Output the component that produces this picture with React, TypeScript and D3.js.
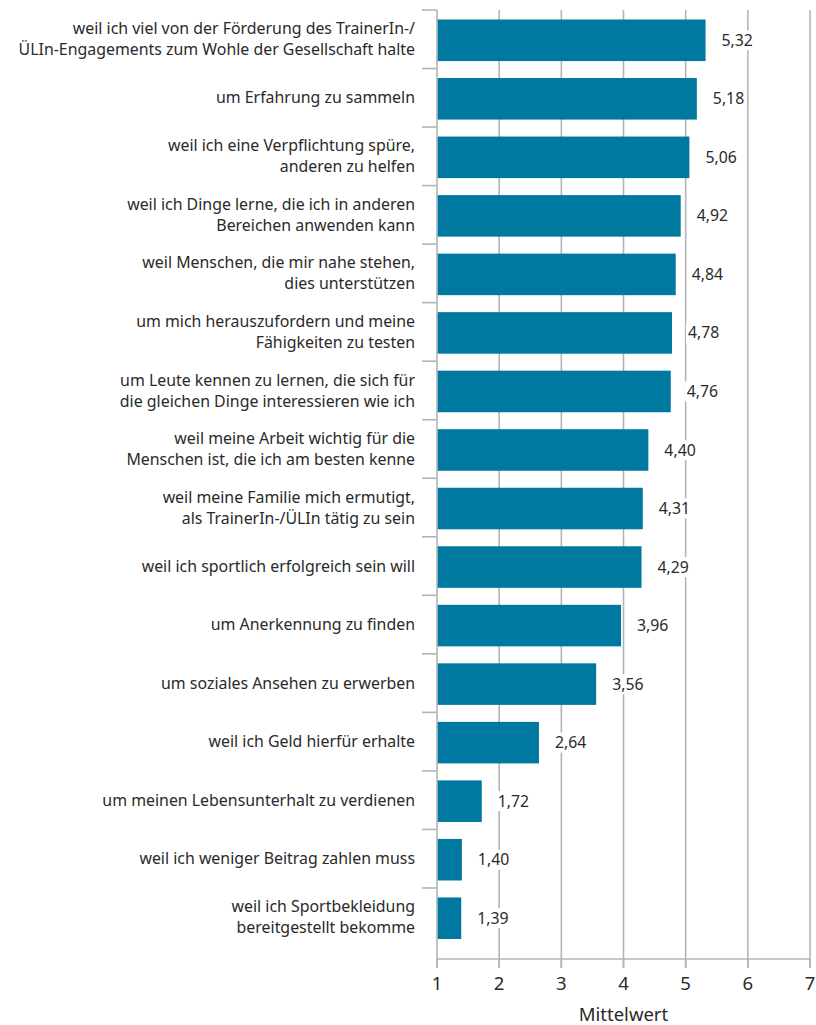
import React from "react";
import * as d3 from "d3";

const categories: string[][] = [
  ["weil ich viel von der Förderung des TrainerIn-/", "ÜLIn-Engagements zum Wohle der Gesellschaft halte"],
  ["um Erfahrung zu sammeln"],
  ["weil ich eine Verpflichtung spüre,", "anderen zu helfen"],
  ["weil ich Dinge lerne, die ich in anderen", "Bereichen anwenden kann"],
  ["weil Menschen, die mir nahe stehen,", "dies unterstützen"],
  ["um mich herauszufordern und meine", "Fähigkeiten zu testen"],
  ["um Leute kennen zu lernen, die sich für", "die gleichen Dinge interessieren wie ich"],
  ["weil meine Arbeit wichtig für die", "Menschen ist, die ich am besten kenne"],
  ["weil meine Familie mich ermutigt,", "als TrainerIn-/ÜLIn tätig zu sein"],
  ["weil ich sportlich erfolgreich sein will"],
  ["um Anerkennung zu finden"],
  ["um soziales Ansehen zu erwerben"],
  ["weil ich Geld hierfür erhalte"],
  ["um meinen Lebensunterhalt zu verdienen"],
  ["weil ich weniger Beitrag zahlen muss"],
  ["weil ich Sportbekleidung", "bereitgestellt bekomme"],
];
const values: number[] = [5.32, 5.18, 5.06, 4.92, 4.84, 4.78, 4.76, 4.4, 4.31, 4.29, 3.96, 3.56, 2.64, 1.72, 1.4, 1.39];
const xTicks: number[] = [1, 2, 3, 4, 5, 6, 7];
const xTitle = "Mittelwert";

const BAR = "#0079a0";
const GRID = "#b4b4b8";
const TEXT = "#2a2a2a";
const FONT = "'Noto Sans', sans-serif";

export default function App() {
  const ids = categories.map((_, i) => String(i));
  const x = d3.scaleLinear().domain([1, 7]).range([437, 810]);
  const y = d3.scaleBand().domain(ids).range([10, 946.5]).paddingInner(0.29).paddingOuter(0.145);
  const step = y.step();
  const axisY = 959;
  const fmt = (v: number) => d3.format(".2f")(v).replace(".", ",");

  return (
    <svg width={816} height={1025} style={{ position: "absolute", left: 0, top: 0 }} fontFamily={FONT}>
      <rect width={816} height={1025} fill="#fff" />
      {xTicks.slice(1).map((t) => (
        <line key={"g" + t} x1={x(t)} x2={x(t)} y1={10} y2={axisY + 9} stroke={GRID} strokeWidth={1.6} />
      ))}
      {values.map((v, i) => (
        <rect key={"b" + i} x={x(1)} y={(y(ids[i]) as number) + 1} width={x(v) - x(1)} height={y.bandwidth()} fill={BAR} />
      ))}
      {values.map((v, i) => {
        const cy = (y(ids[i]) as number) + 1 + y.bandwidth() / 2;
        const lx = x(v) + 16;
        return (
          <g key={"v" + i}>
            <rect x={lx - 2} y={cy - 10} width={36} height={20} fill="#fff" />
            <text x={lx} y={cy} dy="0.35em" fontSize={15.8} fill={TEXT}>
              {fmt(v)}
            </text>
          </g>
        );
      })}
      <line x1={x(1)} x2={x(1)} y1={10} y2={axisY + 9} stroke={GRID} strokeWidth={1.6} />
      {d3.range(16).map((i) => (
        <line key={"t" + i} x1={422} x2={x(1)} y1={10 + i * step} y2={10 + i * step} stroke={GRID} strokeWidth={1.6} />
      ))}
      <line x1={x(1)} x2={x(7)} y1={axisY} y2={axisY} stroke={GRID} strokeWidth={1.6} />
      {xTicks.map((t) => (
        <g key={"xt" + t}>
          <line x1={x(t)} x2={x(t)} y1={axisY} y2={axisY + 9} stroke={GRID} strokeWidth={1.6} />
          <text x={x(t)} y={984} dy="0.35em" textAnchor="middle" fontSize={18.5} fill={TEXT}>
            {t}
          </text>
        </g>
      ))}
      <text x={x(4)} y={1015} dy="0.35em" textAnchor="middle" fontSize={18.5} fill={TEXT}>
        {xTitle}
      </text>
      {categories.map((lines, i) => {
        const cy = (y(ids[i]) as number) + 1 + y.bandwidth() / 2 - 1;
        const lh = 21;
        return (
          <text key={"c" + i} x={415} textAnchor="end" fontSize={15.9} fill={TEXT}>
            {lines.map((l, j) => (
              <tspan key={j} x={415} y={cy + (j - (lines.length - 1) / 2) * lh} dy="0.35em">
                {l}
              </tspan>
            ))}
          </text>
        );
      })}
    </svg>
  );
}
